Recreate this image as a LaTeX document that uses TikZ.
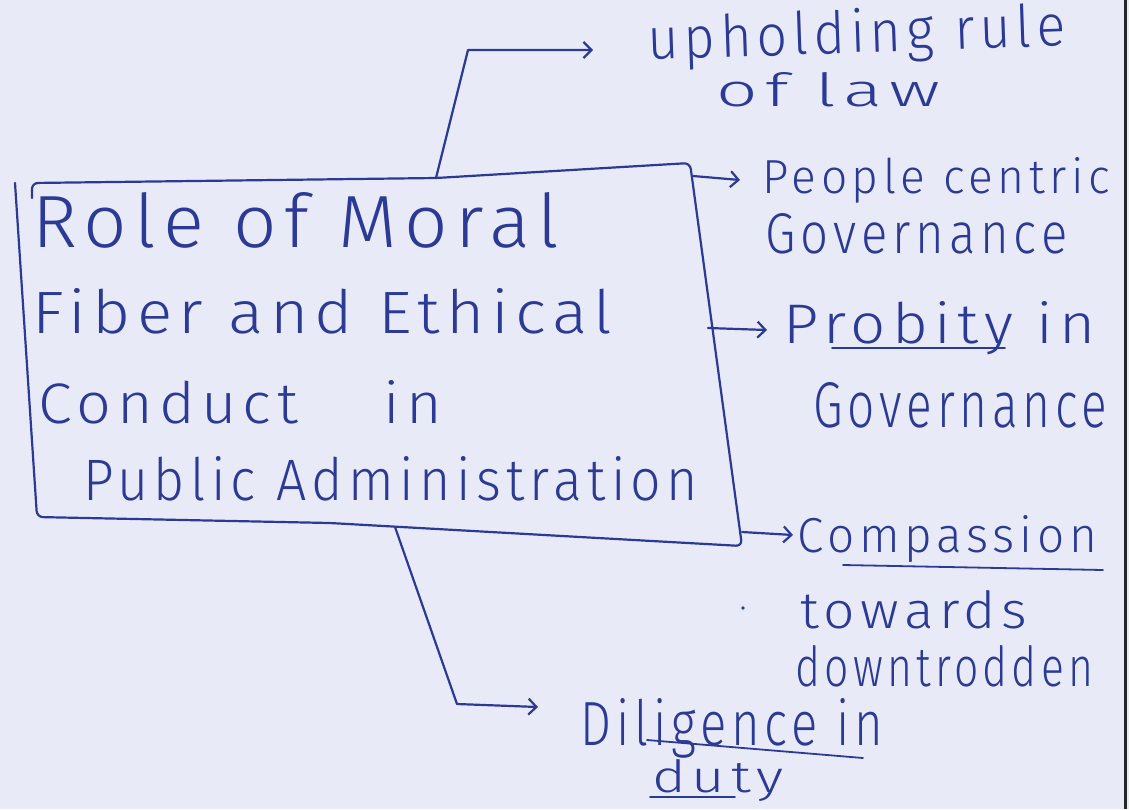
\documentclass[tikz,border=0pt]{standalone}
\usepackage{fontspec}
\usetikzlibrary{arrows.meta,calc}
\newfontfamily\hand{Fira Sans Light}[LetterSpace=10]
\definecolor{ink}{RGB}{42,58,150}
\definecolor{paper}{RGB}{233,234,248}
% set a text in the hand font, scaled to a given width and height (pt)
\newcommand\fitwh[3]{\resizebox{#1pt}{#2pt}{\hand #3}}

\begin{document}
\begin{tikzpicture}[x=1pt,y=-1pt,
  inkline/.style={draw=ink,line width=2.2pt,line cap=round,line join=round},
  arr/.style={inkline,-{Straight Barb[length=8pt,width=16pt]}},
  lbl/.style={anchor=base west,inner sep=0pt,text=ink},
  uline/.style={draw=ink,line width=1.8pt,line cap=round}]
\fill[paper] (0,0) rectangle (1129,809);
\useasboundingbox (0,0) rectangle (1129,809);
% sheet edge
\draw[line width=3pt,black!85] (1125,0) -- (1125,809);

% central box text
\node[lbl] (t1) at (32,247) {\fitwh{526}{55}{Role of Moral}};
\node[lbl] (t2) at (32,333) {\fitwh{580}{45}{Fiber and Ethical}};
\node[lbl] (t3) at (38,423) {\fitwh{404}{43}{Conduct\hspace{1.4em}in}};
\node[lbl] (t4) at (83,500) {\fitwh{615}{44}{Public Administration}};

% box outline
\coordinate (bTL) at (15,183);
\coordinate (bTR) at (690,163);
\coordinate (bBR) at (742,546);
\coordinate (bBL) at (37,517);
\coordinate (pTop) at (436,178);
\draw[inkline,rounded corners=6pt] (32,198) -- (32,183) -- (pTop) -- (bTR)
  -- (bBR) -- (580,537) -- (330,523) -- (bBL) -- (bTL);

% outcomes
\node[lbl,rotate=2] (r1a) at (648,60) {\fitwh{418}{44}{upholding rule}};
\node[lbl] (r1b) at (716,106) {\fitwh{224}{34}{of law}};
\node[lbl] (r2a) at (762,193) {\fitwh{348}{36}{People centric}};
\node[lbl] (r2b) at (765,253) {\fitwh{302}{40}{Governance}};
\node[lbl] (r3a) at (783,343) {\fitwh{312}{42}{Probity in}};
\node[lbl] (r3b) at (813,427) {\fitwh{294}{45}{Governance}};
\node[lbl] (r4a) at (797,552) {\fitwh{300}{37}{Compassion}};
\node[lbl] (r4b) at (800,628) {\fitwh{227}{38}{towards}};
\node[lbl] (r4c) at (795,686) {\fitwh{298}{41}{downtrodden}};
\node[lbl] (r5a) at (580,745) {\fitwh{303}{47}{Diligence in}};
\node[lbl] (r5b) at (652,792) {\fitwh{131}{33}{duty}};

% underlines
\draw[uline] (832,348) -- (1005,348);
\draw[uline] (843,565) -- (1103,570);
\draw[uline] (647,740) -- (863,758);
\draw[uline] (650,797) -- (735,797);

% connectors
\coordinate (kTop) at (468,50);
\coordinate (pPeople) at (693,176);
\coordinate (pProb) at (708,328);
\coordinate (pComp) at (742,532);
\coordinate (pDil) at (395,527);
\coordinate (kDil) at (457,704);
\draw[arr] (pTop) -- (kTop) -- ($(r1a.base west)+(-55,-10)$);
\draw[arr] (pPeople) -- ($(r2a.base west)+(-22,-13)$);
\draw[arr] (pProb) -- ($(r3a.base west)+(-16,-13)$);
\draw[arr] (pComp) -- ($(r4a.base west)+(-4,-17)$);
\draw[arr] (pDil) -- (kDil) -- ($(r5a.base west)+(-42,-38)$);

\fill[ink] (743,608) circle (1.8pt);
\end{tikzpicture}
\end{document}
